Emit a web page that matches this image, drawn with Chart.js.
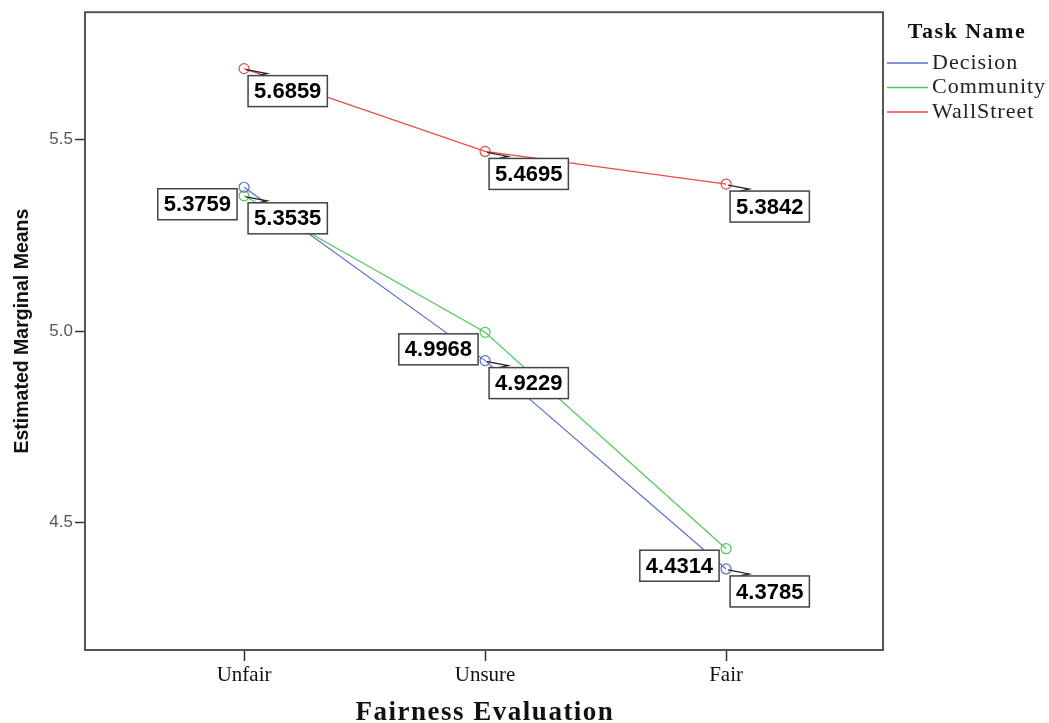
<!DOCTYPE html>
<html>
<head>
<meta charset="utf-8">
<script src="https://cdn.jsdelivr.net/npm/chart.js@4"></script>
<style>
  body { margin: 0; background: #fff; }
  #wrap { width: 1049px; height: 723px; }
</style>
</head>
<body>
<div id="wrap"><canvas id="meansChart"></canvas></div>
<script>
// categories on the x axis
const categories = ['Unfair', 'Unsure', 'Fair'];
// estimated marginal means per task
const decision = [5.3759, 4.9229, 4.3785];
const community = [5.3535, 4.9968, 4.4314];
const wallStreet = [5.6859, 5.4695, 5.3842];
const yTicks = [4.5, 5.0, 5.5];

// which side the value box sits on, per point
const labelSide = [
    ['left', 'right', 'right'],
    ['right', 'left', 'left'],
    ['right', 'right', 'right']
];

function toPoints(values) {
    return values.map((v, i) => ({ x: i, y: v }));
}

const valueBoxes = {
    id: 'valueBoxes',
    beforeDatasetsDraw(chart) {
        // frame round the plot area
        const a = chart.chartArea;
        const ctx = chart.ctx;
        ctx.save();
        ctx.strokeStyle = '#555';
        ctx.lineWidth = 2;
        ctx.strokeRect(a.left, a.top, a.right - a.left, a.bottom - a.top);
        ctx.restore();
    },
    afterDatasetsDraw(chart) {
        const ctx = chart.ctx;
        ctx.save();
        ctx.font = 'bold 22px "Liberation Sans", Arial';
        ctx.textAlign = 'center';
        ctx.textBaseline = 'middle';
        chart.data.datasets.forEach((ds, di) => {
            const meta = chart.getDatasetMeta(di);
            meta.data.forEach((pt, i) => {
                const txt = ds.data[i].y.toFixed(4);
                const w = ctx.measureText(txt).width + 12;
                const h = 31;
                let left, top;
                if (labelSide[di][i] === 'left') {
                    left = pt.x - 7 - w;
                    top = pt.y + 1.5;
                } else {
                    left = pt.x + 4;
                    top = pt.y + 7;
                    ctx.strokeStyle = '#222';
                    ctx.lineWidth = 1.3;
                    ctx.beginPath();
                    ctx.moveTo(pt.x + 2, pt.y + 1);
                    ctx.lineTo(pt.x + 23, pt.y + 5);
                    ctx.lineTo(pt.x + 14, pt.y + 7);
                    ctx.stroke();
                }
                ctx.fillStyle = '#fff';
                ctx.fillRect(left, top, w, h);
                ctx.strokeStyle = '#444';
                ctx.lineWidth = 1.5;
                ctx.strokeRect(left, top, w, h);
                ctx.fillStyle = '#000';
                ctx.fillText(txt, left + w / 2, top + h / 2 + 1);
            });
        });
        ctx.restore();
    },
    afterDraw(chart) {
        const ctx = chart.ctx;
        const a = chart.chartArea;
        ctx.save();
        // x axis title
        ctx.fillStyle = '#111';
        ctx.textAlign = 'center';
        ctx.textBaseline = 'alphabetic';
        ctx.font = 'bold 27px "Liberation Serif", "Times New Roman"';
        ctx.letterSpacing = '1.5px';
        ctx.fillText('Fairness Evaluation', (a.left + a.right) / 2 + 1, 720);
        // legend
        ctx.textBaseline = 'middle';
        ctx.font = 'bold 22px "Liberation Serif", "Times New Roman"';
        ctx.letterSpacing = '1.5px';
        ctx.fillText('Task Name', 967, 32);
        ctx.textAlign = 'left';
        ctx.letterSpacing = '1px';
        ctx.font = '22px "Liberation Serif", "Times New Roman"';
        chart.data.datasets.forEach((ds, i) => {
            const y = 63 + i * 24.5;
            ctx.strokeStyle = ds.borderColor;
            ctx.lineWidth = 1.5;
            ctx.beginPath();
            ctx.moveTo(887, y);
            ctx.lineTo(928, y);
            ctx.stroke();
            ctx.fillStyle = '#222';
            ctx.fillText(ds.label, 932, y);
        });
        ctx.restore();
    }
};

function makeSet(label, values, color) {
    return {
        label: label,
        data: toPoints(values),
        borderColor: color,
        borderWidth: 1.2,
        pointRadius: 5,
        pointHoverRadius: 5,
        pointBorderColor: color,
        pointBackgroundColor: 'rgba(0,0,0,0)',
        pointBorderWidth: 1.2,
        tension: 0
    };
}

new Chart(document.getElementById('meansChart'), {
    type: 'line',
    data: {
        datasets: [
            makeSet('Decision', decision, '#5a6fc8'),
            makeSet('Community', community, '#52c95a'),
            makeSet('WallStreet', wallStreet, '#ef4a4a')
        ]
    },
    options: {
        responsive: true,
        maintainAspectRatio: false,
        animation: false,
        layout: { padding: { top: 10, right: 166, left: 0, bottom: 0 } },
        plugins: {
            legend: { display: false },
            tooltip: { enabled: false }
        },
        scales: {
            x: {
                type: 'linear',
                min: -0.66,
                max: 2.651,
                afterBuildTicks: s => { s.ticks = categories.map((c, i) => ({ value: i })); },
                afterFit: s => { s.height = 73; },
                grid: { drawOnChartArea: false, tickLength: 11, tickColor: '#333', tickWidth: 1.5 },
                border: { display: false },
                ticks: {
                    callback: v => categories[v],
                    color: '#111',
                    padding: 2,
                    font: { family: '"Liberation Serif", "Times New Roman"', size: 21 }
                },
                title: { display: false }
            },
            y: {
                min: 4.1667,
                max: 5.8333,
                afterBuildTicks: s => { s.ticks = yTicks.map(v => ({ value: v })); },
                afterFit: s => { s.width = 85; },
                grid: { drawOnChartArea: false, tickLength: 10, tickColor: '#333', tickWidth: 1.5 },
                border: { display: false },
                ticks: {
                    callback: v => v.toFixed(1),
                    color: '#555',
                    padding: 2,
                    font: { family: '"Liberation Sans", Arial', size: 17 }
                },
                title: {
                    display: true,
                    text: 'Estimated Marginal Means',
                    color: '#111',
                    padding: { top: 11, bottom: 0 },
                    font: { family: '"Liberation Sans", Arial', size: 19.5, weight: 'bold' }
                }
            }
        }
    },
    plugins: [valueBoxes]
});
</script>
</body>
</html>
